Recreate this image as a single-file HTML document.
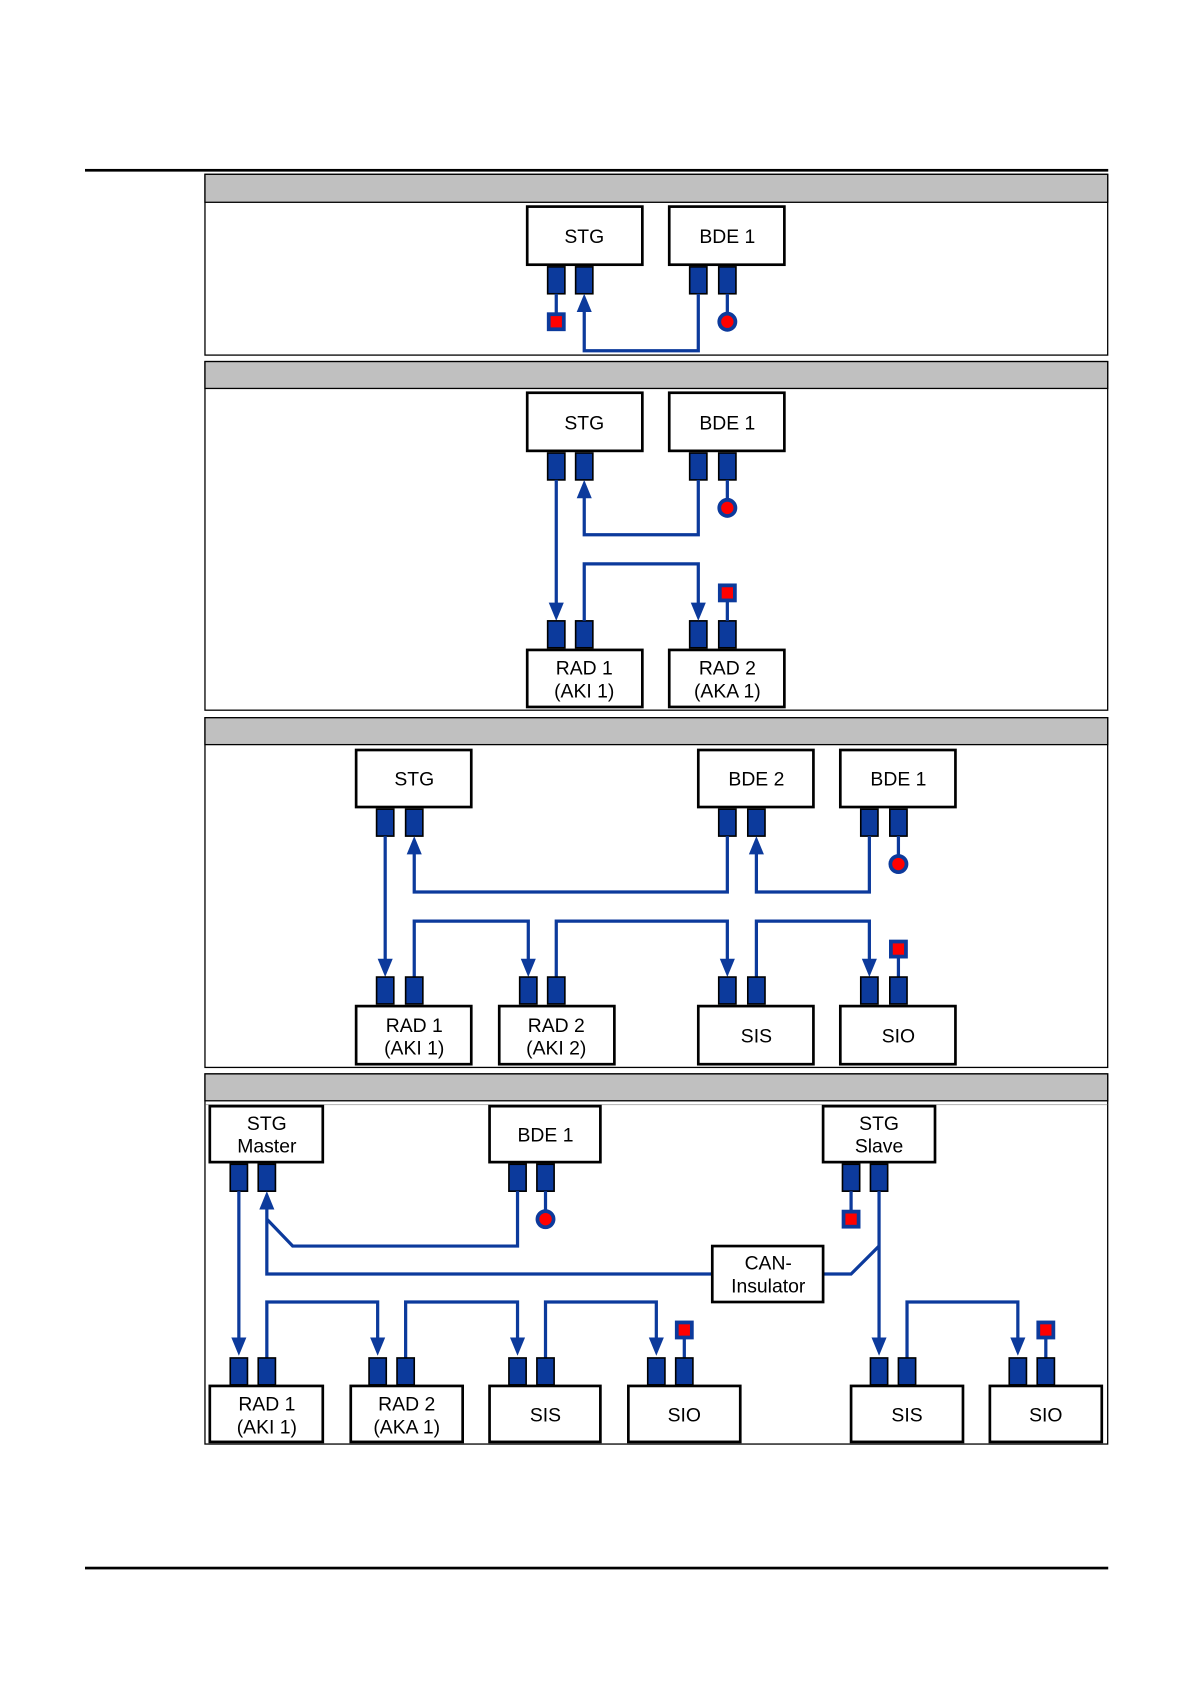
<!DOCTYPE html>
<html><head><meta charset="utf-8"><style>
html,body{margin:0;padding:0;background:#fff;}
svg{display:block;}
text{font-family:"Liberation Sans",sans-serif;font-size:18px;fill:#000;text-anchor:middle;}
.b{fill:#fff;stroke:#000;stroke-width:2.5;}
.p{fill:#0c3a9c;stroke:#000;stroke-width:1.5;}
.l{fill:none;stroke:#0c3a9c;stroke-width:3;}
.a{fill:#0c3a9c;}
.rs{fill:#ff0000;stroke:#0c3a9c;stroke-width:3.5;}
.pan{fill:#fff;stroke:#000;stroke-width:1.2;}
.hd{fill:#c0c0c0;stroke:#000;stroke-width:1.2;}
</style></head><body>
<svg width="1190" height="1684" viewBox="0 0 1106 1565" preserveAspectRatio="none" xmlns="http://www.w3.org/2000/svg">
<rect x="79" y="157" width="951" height="2.5" fill="#000"/>
<rect x="79" y="1456" width="951" height="2.5" fill="#000"/>

<!-- Panel 1 -->
<rect class="pan" x="190.5" y="162" width="839" height="168"/>
<rect class="hd" x="190.5" y="162" width="839" height="26"/>
<rect class="b" x="490" y="192" width="107" height="54"/><text x="543" y="226">STG</text>
<rect class="b" x="622" y="192" width="107" height="54"/><text x="676" y="226">BDE 1</text>
<rect class="p" x="509" y="248" width="16" height="25"/><rect class="p" x="535" y="248" width="16" height="25"/>
<rect class="p" x="641" y="248" width="16" height="25"/><rect class="p" x="668" y="248" width="16" height="25"/>
<path class="l" d="M517 273V292M676 273V292"/>
<rect class="rs" x="510" y="292" width="14" height="14"/>
<circle class="rs" cx="676" cy="299" r="7.5"/>
<path class="l" d="M543 285V326H649V273"/><polygon class="a" points="543,273 536,290 550,290"/>

<!-- Panel 2 -->
<rect class="pan" x="190.5" y="336" width="839" height="324"/>
<rect class="hd" x="190.5" y="336" width="839" height="25"/>
<rect class="b" x="490" y="365" width="107" height="54"/><text x="543" y="399">STG</text>
<rect class="b" x="622" y="365" width="107" height="54"/><text x="676" y="399">BDE 1</text>
<rect class="p" x="509" y="421" width="16" height="25"/><rect class="p" x="535" y="421" width="16" height="25"/>
<rect class="p" x="641" y="421" width="16" height="25"/><rect class="p" x="668" y="421" width="16" height="25"/>
<path class="l" d="M676 446V465"/><circle class="rs" cx="676" cy="472" r="7.5"/>
<path class="l" d="M543 458V497H649V446"/><polygon class="a" points="543,446 536,463 550,463"/>
<path class="l" d="M517 446V565"/><polygon class="a" points="517,577 510,560 524,560"/>
<rect class="b" x="490" y="604" width="107" height="53"/><text x="543" y="627">RAD 1</text><text x="543" y="648">(AKI 1)</text>
<rect class="b" x="622" y="604" width="107" height="53"/><text x="676" y="627">RAD 2</text><text x="676" y="648">(AKA 1)</text>
<rect class="p" x="509" y="577" width="16" height="25"/><rect class="p" x="535" y="577" width="16" height="25"/>
<rect class="p" x="641" y="577" width="16" height="25"/><rect class="p" x="668" y="577" width="16" height="25"/>
<path class="l" d="M543 577V524H649V565"/><polygon class="a" points="649,577 642,560 656,560"/>
<path class="l" d="M676 577V558"/><rect class="rs" x="669" y="544" width="14" height="14"/>

<!-- Panel 3 -->
<rect class="pan" x="190.5" y="667" width="839" height="325"/>
<rect class="hd" x="190.5" y="667" width="839" height="25"/>
<rect class="b" x="331" y="697" width="107" height="53"/><text x="385" y="730">STG</text>
<rect class="b" x="649" y="697" width="107" height="53"/><text x="703" y="730">BDE 2</text>
<rect class="b" x="781" y="697" width="107" height="53"/><text x="835" y="730">BDE 1</text>
<rect class="p" x="350" y="752" width="16" height="25"/><rect class="p" x="377" y="752" width="16" height="25"/>
<rect class="p" x="668" y="752" width="16" height="25"/><rect class="p" x="695" y="752" width="16" height="25"/>
<rect class="p" x="800" y="752" width="16" height="25"/><rect class="p" x="827" y="752" width="16" height="25"/>
<path class="l" d="M835 777V796"/><circle class="rs" cx="835" cy="803" r="7.5"/>
<path class="l" d="M385 789V829H676V777"/><polygon class="a" points="385,777 378,794 392,794"/>
<path class="l" d="M703 789V829H808V777"/><polygon class="a" points="703,777 696,794 710,794"/>
<path class="l" d="M358 777V896"/><polygon class="a" points="358,908 351,891 365,891"/>
<path class="l" d="M385 908V856H491V896"/><polygon class="a" points="491,908 484,891 498,891"/>
<path class="l" d="M517 908V856H676V896"/><polygon class="a" points="676,908 669,891 683,891"/>
<path class="l" d="M703 908V856H808V896"/><polygon class="a" points="808,908 801,891 815,891"/>
<path class="l" d="M835 908V889"/><rect class="rs" x="828" y="875" width="14" height="14"/>
<rect class="p" x="350" y="908" width="16" height="25"/><rect class="p" x="377" y="908" width="16" height="25"/>
<rect class="p" x="483" y="908" width="16" height="25"/><rect class="p" x="509" y="908" width="16" height="25"/>
<rect class="p" x="668" y="908" width="16" height="25"/><rect class="p" x="695" y="908" width="16" height="25"/>
<rect class="p" x="800" y="908" width="16" height="25"/><rect class="p" x="827" y="908" width="16" height="25"/>
<rect class="b" x="331" y="935" width="107" height="54"/><text x="385" y="959">RAD 1</text><text x="385" y="980">(AKI 1)</text>
<rect class="b" x="464" y="935" width="107" height="54"/><text x="517" y="959">RAD 2</text><text x="517" y="980">(AKI 2)</text>
<rect class="b" x="649" y="935" width="107" height="54"/><text x="703" y="969">SIS</text>
<rect class="b" x="781" y="935" width="107" height="54"/><text x="835" y="969">SIO</text>

<!-- Panel 4 -->
<rect class="pan" x="190.5" y="998" width="839" height="344"/>
<rect class="hd" x="190.5" y="998" width="839" height="25"/>
<line x1="191" y1="1026.5" x2="1029" y2="1026.5" stroke="#bbb" stroke-width="1"/>
<rect class="b" x="195" y="1028" width="105" height="52"/><text x="248" y="1050">STG</text><text x="248" y="1071">Master</text>
<rect class="b" x="455" y="1028" width="103" height="52"/><text x="507" y="1061">BDE 1</text>
<rect class="b" x="765" y="1028" width="104" height="52"/><text x="817" y="1050">STG</text><text x="817" y="1071">Slave</text>
<rect class="p" x="214" y="1082" width="16" height="25"/><rect class="p" x="240" y="1082" width="16" height="25"/>
<rect class="p" x="473" y="1082" width="16" height="25"/><rect class="p" x="499" y="1082" width="16" height="25"/>
<rect class="p" x="783" y="1082" width="16" height="25"/><rect class="p" x="809" y="1082" width="16" height="25"/>
<path class="l" d="M507 1107V1126"/><circle class="rs" cx="507" cy="1133" r="7.5"/>
<path class="l" d="M791 1107V1126"/><rect class="rs" x="784" y="1126" width="14" height="14"/>
<path class="l" d="M481 1107V1158H272L248 1133"/>
<path class="l" d="M248 1119V1184H662"/><polygon class="a" points="248,1107 241,1124 255,1124"/>
<path class="l" d="M765 1184H791L817 1158"/>
<path class="l" d="M817 1107V1248"/><polygon class="a" points="817,1260 810,1243 824,1243"/>
<rect class="b" x="662" y="1158" width="103" height="52"/><text x="714" y="1180">CAN-</text><text x="714" y="1201">Insulator</text>
<path class="l" d="M222 1107V1248"/><polygon class="a" points="222,1260 215,1243 229,1243"/>
<path class="l" d="M248 1262V1210H351V1248"/><polygon class="a" points="351,1260 344,1243 358,1243"/>
<path class="l" d="M377 1262V1210H481V1248"/><polygon class="a" points="481,1260 474,1243 488,1243"/>
<path class="l" d="M507 1262V1210H610V1248"/><polygon class="a" points="610,1260 603,1243 617,1243"/>
<path class="l" d="M843 1262V1210H946V1248"/><polygon class="a" points="946,1260 939,1243 953,1243"/>
<path class="l" d="M636 1262V1243"/><rect class="rs" x="629" y="1229" width="14" height="14"/>
<path class="l" d="M972 1262V1243"/><rect class="rs" x="965" y="1229" width="14" height="14"/>
<rect class="p" x="214" y="1262" width="16" height="25"/><rect class="p" x="240" y="1262" width="16" height="25"/>
<rect class="p" x="343" y="1262" width="16" height="25"/><rect class="p" x="369" y="1262" width="16" height="25"/>
<rect class="p" x="473" y="1262" width="16" height="25"/><rect class="p" x="499" y="1262" width="16" height="25"/>
<rect class="p" x="602" y="1262" width="16" height="25"/><rect class="p" x="628" y="1262" width="16" height="25"/>
<rect class="p" x="809" y="1262" width="16" height="25"/><rect class="p" x="835" y="1262" width="16" height="25"/>
<rect class="p" x="938" y="1262" width="16" height="25"/><rect class="p" x="964" y="1262" width="16" height="25"/>
<rect class="b" x="195" y="1288" width="105" height="52"/><text x="248" y="1311">RAD 1</text><text x="248" y="1332">(AKI 1)</text>
<rect class="b" x="326" y="1288" width="104" height="52"/><text x="378" y="1311">RAD 2</text><text x="378" y="1332">(AKA 1)</text>
<rect class="b" x="455" y="1288" width="103" height="52"/><text x="507" y="1321">SIS</text>
<rect class="b" x="584" y="1288" width="104" height="52"/><text x="636" y="1321">SIO</text>
<rect class="b" x="791" y="1288" width="104" height="52"/><text x="843" y="1321">SIS</text>
<rect class="b" x="920" y="1288" width="104" height="52"/><text x="972" y="1321">SIO</text>
</svg>
</body></html>
